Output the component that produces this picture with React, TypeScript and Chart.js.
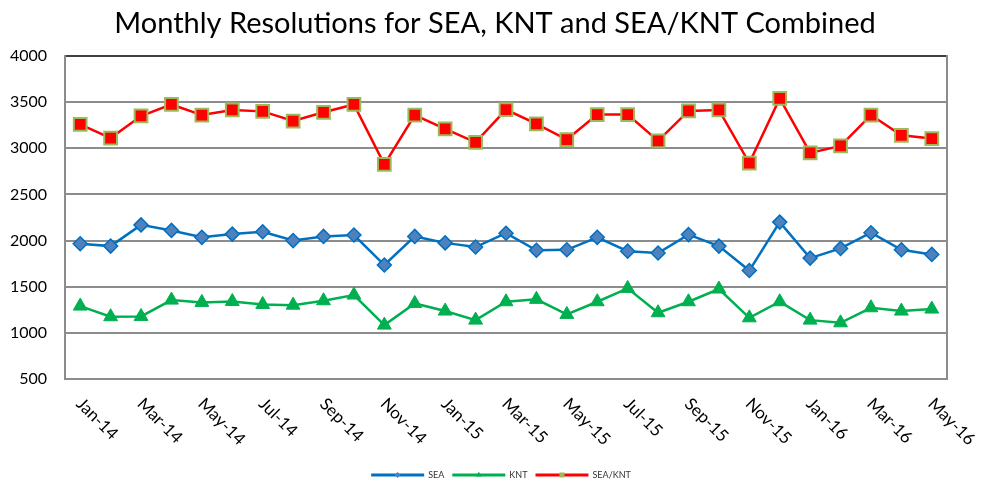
import React, { useEffect, useRef } from 'react';
import { Chart, registerables } from 'chart.js';

Chart.register(...registerables);

const months = [
  'Jan-14', 'Feb-14', 'Mar-14', 'Apr-14', 'May-14', 'Jun-14', 'Jul-14', 'Aug-14', 'Sep-14', 'Oct-14', 'Nov-14', 'Dec-14',
  'Jan-15', 'Feb-15', 'Mar-15', 'Apr-15', 'May-15', 'Jun-15', 'Jul-15', 'Aug-15', 'Sep-15', 'Oct-15', 'Nov-15', 'Dec-15',
  'Jan-16', 'Feb-16', 'Mar-16', 'Apr-16', 'May-16',
];

const seaValues = [
  1965, 1940, 2170, 2110, 2035, 2070, 2095, 2000, 2045, 2060, 1735, 2045,
  1975, 1930, 2080, 1895, 1900, 2035, 1885, 1865, 2065, 1940, 1675, 2200,
  1810, 1915, 2085, 1900, 1850,
];

const kntValues = [
  1290, 1175, 1178, 1355, 1330, 1340, 1308, 1300, 1348, 1410, 1084, 1319,
  1236, 1138, 1337, 1363, 1200, 1337, 1482, 1218, 1337, 1475, 1163, 1337,
  1138, 1109, 1272, 1236, 1258,
];

const combinedValues = [
  3260, 3110, 3350, 3475, 3360, 3415, 3400, 3295, 3390, 3475, 2825, 3360,
  3210, 3065, 3420, 3265, 3095, 3365, 3365, 3080, 3405, 3415, 2840, 3540,
  2950, 3025, 3360, 3140, 3105,
];

const seriesLabels = ['SEA', 'KNT', 'SEA/KNT'];
const yMin = 500;
const yMax = 4000;
const yStep = 500;
const titleText = 'Monthly Resolutions for SEA, KNT and SEA/KNT Combined';

const FONT = 'Lato, "Open Sans", sans-serif';

const labelsAndLegendPlugin = {
  id: 'labelsAndLegend',
  afterDraw(chart: any) {
    const { ctx, chartArea } = chart;
    const xs = chart.scales.x;
    // rotated category labels (every second month, slanting down to the right)
    ctx.save();
    ctx.font = `17px ${FONT}`;
    ctx.fillStyle = '#000';
    ctx.textAlign = 'left';
    ctx.textBaseline = 'middle';
    months.forEach((m, i) => {
      if (i % 2 !== 0) return;
      const x = xs.getPixelForValue(i);
      ctx.save();
      ctx.translate(x - 1, chartArea.bottom + 22);
      ctx.rotate(Math.PI / 4);
      ctx.fillText(m, 0, 0);
      ctx.restore();
    });
    ctx.restore();

    // legend
    ctx.save();
    ctx.font = `9px ${FONT}`;
    ctx.textBaseline = 'middle';
    ctx.textAlign = 'left';
    const lineW = 53;
    const gapText = 4;
    const gapItem = 8;
    const dss = chart.data.datasets;
    const widths = dss.map((d: any) => lineW + gapText + ctx.measureText(d.label).width);
    const total = widths.reduce((a: number, b: number) => a + b, 0) + gapItem * (dss.length - 1);
    let x = (chartArea.left + chartArea.right) / 2 - 5 - total / 2;
    const y = 475;
    dss.forEach((d: any, i: number) => {
      ctx.fillStyle = d.borderColor;
      ctx.fillRect(x, y - 1.5, lineW, 3);
      const cx = x + lineW / 2;
      ctx.beginPath();
      if (d.pointStyle === 'rectRot') {
        const r = 3;
        ctx.moveTo(cx, y - r);
        ctx.lineTo(cx + r, y);
        ctx.lineTo(cx, y + r);
        ctx.lineTo(cx - r, y);
        ctx.closePath();
        ctx.fillStyle = d.pointBackgroundColor;
        ctx.fill();
      } else if (d.pointStyle === 'triangle') {
        const r = 3.2;
        ctx.moveTo(cx, y - r);
        ctx.lineTo(cx + r * 0.866, y + r / 2);
        ctx.lineTo(cx - r * 0.866, y + r / 2);
        ctx.closePath();
        ctx.fillStyle = d.pointBackgroundColor;
        ctx.fill();
      } else {
        ctx.fillStyle = d.pointBorderColor;
        ctx.fillRect(cx - 2.5, y - 2.5, 5, 5);
      }
      ctx.fillStyle = '#333';
      ctx.fillText(d.label, x + lineW + gapText, y);
      x += widths[i] + gapItem;
    });
    ctx.restore();
  },
};

export default function App() {
  const ref = useRef<HTMLCanvasElement>(null);

  useEffect(() => {
    document.body.style.margin = '0';
    const canvas = ref.current;
    if (!canvas) return;
    const chart = new Chart(canvas, {
      type: 'line',
      data: {
        labels: months,
        datasets: [
          {
            label: seriesLabels[0],
            data: seaValues,
            borderColor: '#0070C0',
            borderWidth: 2.5,
            pointStyle: 'rectRot',
            pointRadius: 7,
            pointBackgroundColor: '#4F81BD',
            pointBorderColor: '#0070C0',
            pointBorderWidth: 1.5,
            tension: 0,
          },
          {
            label: seriesLabels[1],
            data: kntValues,
            borderColor: '#00B050',
            borderWidth: 2.5,
            pointStyle: 'triangle',
            pointRadius: 8,
            pointBackgroundColor: '#00B050',
            pointBorderColor: '#00B050',
            pointBorderWidth: 1,
            tension: 0,
          },
          {
            label: seriesLabels[2],
            data: combinedValues,
            borderColor: '#FF0000',
            borderWidth: 2.5,
            pointStyle: 'rect',
            pointRadius: 9,
            pointBackgroundColor: '#FF0000',
            pointBorderColor: '#9BBB59',
            pointBorderWidth: 2,
            tension: 0,
          },
        ],
      },
      options: {
        responsive: false,
        animation: false,
        devicePixelRatio: 1,
        layout: { padding: { top: 0, right: 0, bottom: 0, left: 9 } },
        plugins: {
          legend: { display: false },
          tooltip: { enabled: false },
          title: {
            display: true,
            text: titleText,
            color: '#000',
            font: { family: FONT, size: 29, weight: 'normal' },
            padding: { top: 6, bottom: 15.2 },
          },
        },
        scales: {
          x: {
            type: 'category',
            offset: true,
            grid: { display: false, drawTicks: false },
            border: { display: true, color: '#8c8c8c', width: 2 },
            ticks: { display: false },
            afterFit: (s: any) => {
              s.height = 104;
            },
          },
          y: {
            min: yMin,
            max: yMax,
            ticks: {
              stepSize: yStep,
              color: '#000',
              font: { family: FONT, size: 16 },
              padding: 18,
              callback: (v: any) => String(v),
            },
            grid: {
              color: (c: any) => (c.tick && c.tick.value === yMax ? '#404040' : '#8c8c8c'),
              lineWidth: 2,
              drawTicks: false,
            },
            border: { color: '#8c8c8c', width: 2 },
            afterFit: (s: any) => {
              s.width = 56;
            },
          },
          yRight: {
            position: 'right',
            display: true,
            ticks: { display: false },
            grid: { display: false, drawTicks: false },
            border: { display: true, color: '#8c8c8c', width: 2 },
            afterFit: (s: any) => {
              s.width = 34;
            },
          },
        },
      },
      plugins: [labelsAndLegendPlugin],
    });
    return () => chart.destroy();
  }, []);

  return (
    <div style={{ width: 981, height: 483 }}>
      <canvas ref={ref} width={981} height={483} style={{ display: 'block' }} />
    </div>
  );
}
